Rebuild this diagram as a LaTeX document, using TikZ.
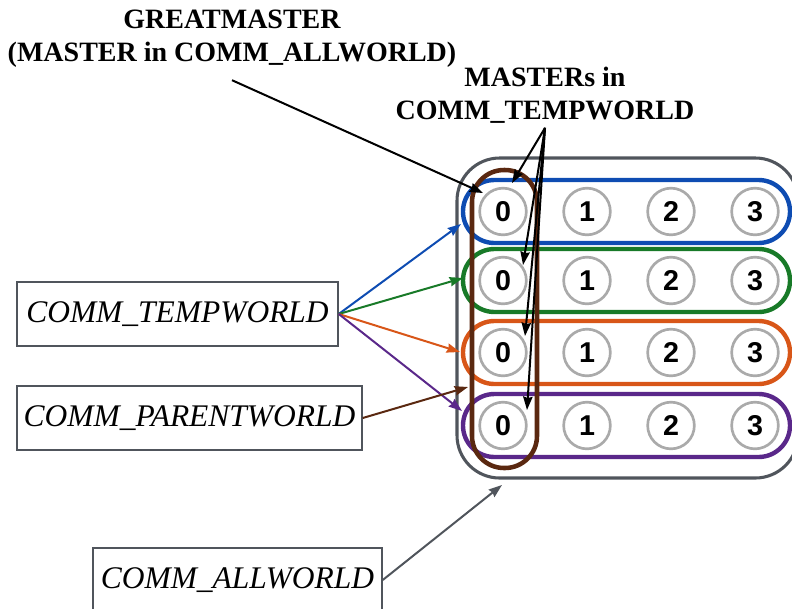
\documentclass[tikz,border=0pt]{standalone}
\usepackage{fontspec}
\setmainfont{Liberation Serif}
\newfontfamily\digitfont{Liberation Sans}
\usetikzlibrary{arrows.meta}
\definecolor{allgray}{RGB}{80,85,92}
\definecolor{procgray}{RGB}{170,170,170}
\definecolor{rowblue}{RGB}{14,76,178}
\definecolor{rowgreen}{RGB}{24,122,40}
\definecolor{roworange}{RGB}{216,86,24}
\definecolor{rowpurple}{RGB}{90,40,138}
\definecolor{parentbrown}{RGB}{90,40,16}

\begin{document}
\begin{tikzpicture}[x=0.75pt,y=-0.75pt,
	proc/.style={circle,draw=procgray,line width=2pt,minimum size=35pt,inner sep=0pt,
		font=\digitfont\bfseries\fontsize{21.5}{21.5}\selectfont},
	rowbox/.style={line width=3.3pt,rounded corners=23.6pt},
	worldbox/.style={draw=allgray,line width=1.1pt,minimum height=48pt,inner sep=0pt,
		font=\itshape\fontsize{23.6}{26}\selectfont},
	lbl/.style={align=center,font=\bfseries\fontsize{21}{24.75}\selectfont},
	arr/.style={line width=1.5pt,-{Stealth[length=10pt,width=7pt,inset=1pt]}}]
	\useasboundingbox (0,0) rectangle (792,608);
	
	\draw[allgray,line width=2.3pt,rounded corners=32pt] (457,158) rectangle (798,478);
	\draw[rowbox,rowblue] (463,180) rectangle (790,243);
	\draw[rowbox,rowgreen] (463,249) rectangle (790,312);
	\draw[rowbox,roworange] (463,321) rectangle (790,384);
	\draw[rowbox,rowpurple] (463,394) rectangle (790,457);
	\draw[parentbrown,line width=3.4pt,rounded corners=24pt] (472,170) rectangle (537,468);
	
	\foreach \r/\y in {1/211.5,2/280.5,3/352.5,4/425.5}
		\foreach \c/\x in {0/503,1/587,2/671,3/755}
			\node[proc] (p\r\c) at (\x,\y) {\c};
	
	\node[worldbox,minimum width=240.75pt] (temp) at (177.5,314) {COMM\_TEMPWORLD};
	\node[worldbox,minimum width=258.75pt] (parent) at (189.5,418) {COMM\_PARENTWORLD};
	\node[worldbox,minimum width=216.75pt] (all) at (237.5,580) {COMM\_ALLWORLD};
	
	\node[lbl,outer sep=6pt] (great) at (232,39) {GREATMASTER\\(MASTER in COMM\_ALLWORLD)};
	\node[lbl] (masters) at (545,95) {MASTERs in\\COMM\_TEMPWORLD};
	
	\coordinate (tb) at (461,224);
	\coordinate (tg) at (463,278);
	\coordinate (to) at (460,352);
	\coordinate (tp) at (462,411);
	\coordinate (tbr) at (468,387);
	\coordinate (ta) at (502,485);
	\coordinate (tgm) at (483,193);
	\coordinate (tm1) at (512,183);
	\coordinate (tm2) at (523,265);
	\coordinate (tm3) at (525,336);
	\coordinate (tm4) at (527,410);
	
	\draw[arr,rowblue] (temp.east) -- (tb);
	\draw[arr,rowgreen] (temp.east) -- (tg);
	\draw[arr,roworange] (temp.east) -- (to);
	\draw[arr,rowpurple] (temp.east) -- (tp);
	\draw[arr,parentbrown] (parent.east) -- (tbr);
	\draw[arr,allgray] (all.east) -- (ta);
	
	\draw[arr] (great.south) -- (tgm);
	\foreach \i in {1,...,4}
		\draw[arr] (masters.south) -- (tm\i);
\end{tikzpicture}
\end{document}
